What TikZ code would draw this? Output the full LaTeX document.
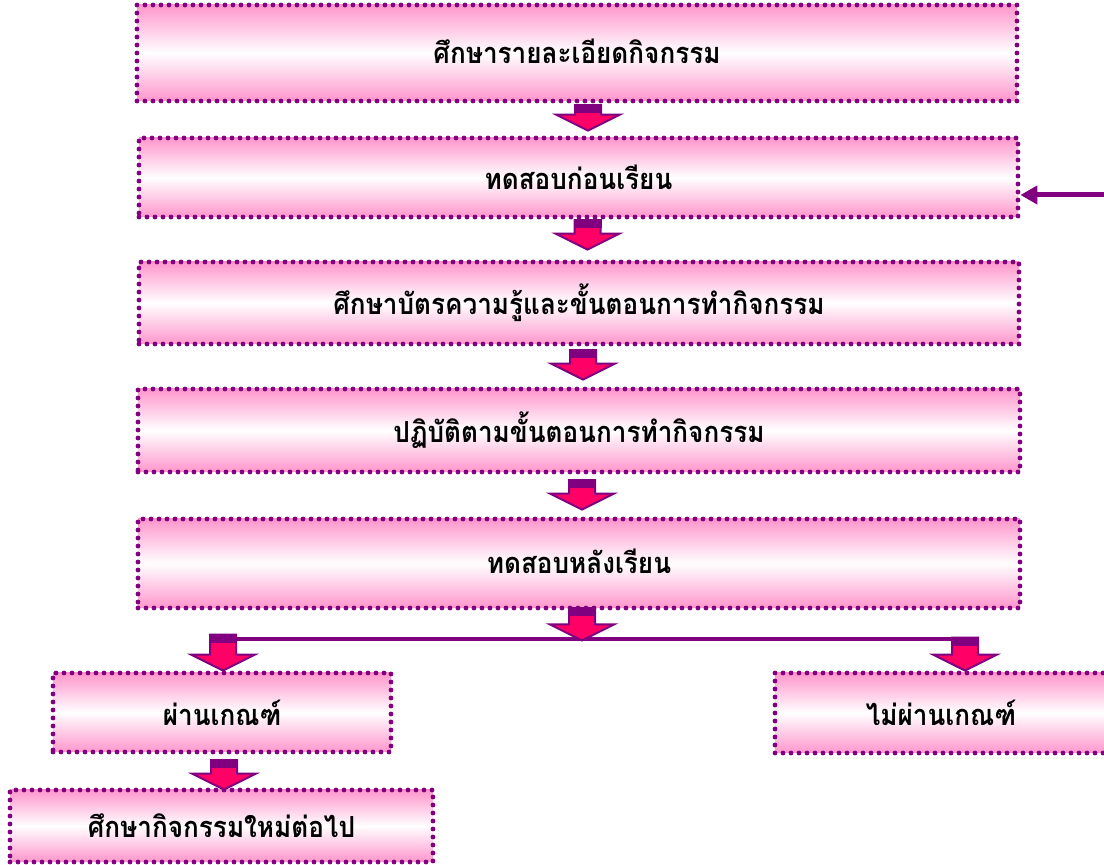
\documentclass[tikz,border=0pt]{standalone}
\usepackage{fontspec}
\newfontfamily\thaifont[Script=Thai, FakeStretch=0.9]{Loma}
\usetikzlibrary{arrows.meta, calc}
\definecolor{boxpink}{RGB}{255,150,204}
\definecolor{dotpurple}{RGB}{128,0,128}
\definecolor{arrpink}{RGB}{255,0,102}

% block arrow from #1 (top) down to #2 (tip)
\newcommand{\downarr}[2]{%
  \filldraw[blockarr] let \p1=(#1), \p2=(#2) in
    (\x1-6.5pt,\y1) -- (\x1-6.5pt,\y2+8pt) -- (\x1-16pt,\y2+8pt) -- (\x1,\y2)
    -- (\x1+16pt,\y2+8pt) -- (\x1+6.5pt,\y2+8pt) -- (\x1+6.5pt,\y1) -- cycle;
  \fill[dotpurple] let \p1=(#1) in (\x1-7pt,\y1+0.5pt) rectangle (\x1+7pt,\y1-4pt);
}

\begin{document}
\begin{tikzpicture}[
    x=0.5pt, y=-0.5pt,
    font=\thaifont\bfseries\fontsize{14.5}{18}\selectfont,
    flowbox/.style = {
        rectangle, draw=dotpurple, line width=2.4pt,
        dash pattern=on 0pt off 4pt, line cap=round,
        top color=boxpink, bottom color=boxpink, middle color=white,
        inner sep=0pt, align=center
    },
    blockarr/.style = {fill=arrpink, draw=dotpurple, line width=1pt},
    connline/.style = {draw=dotpurple, line width=2pt},
]
\useasboundingbox (0,0) rectangle (1104,865);

\node[flowbox, minimum width=440pt, minimum height=48pt] (b1) at (577,53) {\raisebox{2pt}{ศึกษารายละเอียดกิจกรรม}};
\node[flowbox, minimum width=439.5pt, minimum height=39.5pt] (b2) at (578.5,177.5) {ทดสอบก่อนเรียน};
\node[flowbox, minimum width=440pt, minimum height=41pt] (b3) at (579,303) {ศึกษาบัตรความรู้และขั้นตอนการทำกิจกรรม};
\node[flowbox, minimum width=441pt, minimum height=41.5pt] (b4) at (579,430.5) {ปฏิบัติตามขั้นตอนการทำกิจกรรม};
\node[flowbox, minimum width=441pt, minimum height=44.5pt] (b5) at (579,563.5) {\raisebox{2pt}{ทดสอบหลังเรียน}};
\node[flowbox, minimum width=169pt, minimum height=39.5pt] (pass) at (222,712.5) {ผ่านเกณฑ์};
\node[flowbox, minimum width=166pt, minimum height=40pt] (fail) at (941,713) {ไม่ผ่านเกณฑ์};
\node[flowbox, minimum width=211.5pt, minimum height=36pt] (next) at (221.5,826) {ศึกษากิจกรรมใหม่ต่อไป};

\coordinate (splitL) at (210,639);
\coordinate (splitR) at (978,639);
\coordinate (retin) at (1110,195);

\downarr{$(b1.south)+(11,2)$}{$(b2.north)+(11,-5)$}
\downarr{$(b2.south)+(9,1)$}{$(b3.north)+(9,-10)$}
\downarr{$(b3.south)+(4,4)$}{$(b4.north)+(4,-7)$}
\downarr{$(b4.south)+(3,6)$}{$(b5.north)+(3,-7)$}
\draw[connline] (splitL) -- (splitR);
\downarr{$(b5.south)+(3,-2)$}{$(b5.south)+(3,30)$}
\downarr{$(pass.north -| splitL)+(13,-36)$}{$(pass.north)+(1,0)$}
\downarr{$(fail.north -| splitR)+(-13,-33)$}{$(fail.north)+(24,0)$}
\downarr{$(pass.south)+(2,6)$}{$(next.north)+(2,2)$}

\draw[connline, line width=2.5pt, -{Triangle[length=8.5pt,width=9pt]}] (retin) -- (b2.east |- retin);

\end{tikzpicture}
\end{document}
